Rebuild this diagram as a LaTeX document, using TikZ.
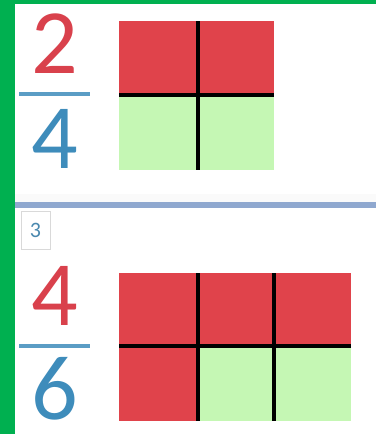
\documentclass[tikz,border=0pt]{standalone}
\usepackage{fontspec}
\setmainfont{Carlito}
\usetikzlibrary{positioning}
\definecolor{frame}{HTML}{00B050}
\definecolor{partred}{HTML}{E0434B}
\definecolor{partgreen}{HTML}{C5F7B4}
\definecolor{numred}{HTML}{D9414C}
\definecolor{denblue}{HTML}{3E8CBB}
\definecolor{rule}{HTML}{8FA8CF}

\begin{document}
\begin{tikzpicture}[x=1pt, y=-1pt, inner sep=0pt, outer sep=0pt,
  digit/.style={font=\fontsize{92}{92}\selectfont, anchor=base},
  cut/.style={draw=black, line width=4pt}]
  \useasboundingbox[fill=white] (0,0) rectangle (376,434);
  % frame and page break
  \fill[frame] (0,0) rectangle (15,434);
  \fill[frame] (0,0) rectangle (376,4);
  \fill[gray!4] (15,194) rectangle (376,202);
  \fill[rule] (15,202) rectangle (376,208);
  \node[draw=gray!30, minimum width=29pt, minimum height=38pt, text=denblue!80!gray,
    font=\fontsize{22}{22}\selectfont] (page) at (35.5,230) {3};

  % 2/4
  \node[digit, text=numred]  (n1) at (55,73)  {2};
  \node[digit, text=denblue] (d1) at (55,168) {4};
  \fill[denblue!85!white] (19,91.5) rectangle (90,95.5);
  \fill[partred] (119,21) rectangle (274,95);
  \fill[partgreen] (119,95) rectangle (274,170);
  \draw[cut] (198,21) -- (198,170);
  \draw[cut] (119,95) -- (274,95);

  % 4/6
  \node[digit, text=numred]  (n2) at (55,325) {4};
  \node[digit, text=denblue] (d2) at (55,419) {6};
  \fill[denblue!85!white] (19,343.5) rectangle (90,347.5);
  \fill[partred] (119,273) rectangle (351,346);
  \fill[partred] (119,346) rectangle (198,421);
  \fill[partgreen] (198,346) rectangle (351,421);
  \draw[cut] (198,273) -- (198,421);
  \draw[cut] (274,273) -- (274,421);
  \draw[cut] (119,346) -- (351,346);
\end{tikzpicture}
\end{document}
